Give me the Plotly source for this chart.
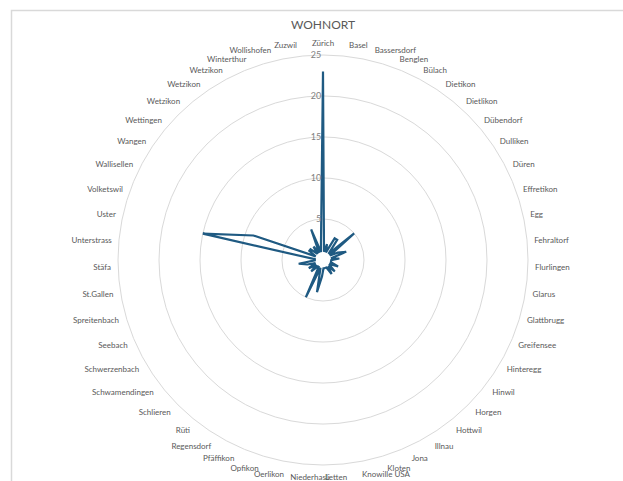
import plotly.graph_objects as go

title_text = "WOHNORT"

orte = [
    "Zürich", "Basel", "Bassersdorf", "Benglen", "Bülach", "Dietikon", "Dietlikon",
    "Dübendorf", "Dulliken", "Düren", "Effretikon", "Egg", "Fehraltorf", "Flurlingen",
    "Glarus", "Glattbrugg", "Greifensee", "Hinteregg", "Hinwil", "Horgen", "Hottwil",
    "Illnau", "Jona", "Kloten", "Knowille USA", "Letten", "Niederhasli", "Oerlikon",
    "Opfikon", "Pfäffikon", "Regensdorf", "Rüti", "Schlieren", "Schwamendingen",
    "Schwerzenbach", "Seebach", "Spreitenbach", "St.Gallen", "Stäfa", "Unterstrass",
    "Uster", "Volketswil", "Wallisellen", "Wangen", "Wettingen", "Wetzikon", "Wetzikon",
    "Wetzikon", "Winterthur", "Wollishofen", "Zuzwil",
]

anzahl = [
    23, 1, 2, 1, 3, 3, 1,
    5, 1, 2, 3, 1, 2, 1,
    1, 1, 2, 1, 1, 2, 1,
    2, 1, 1, 1, 1, 2, 4,
    1, 5, 1, 1, 2, 1,
    2, 1, 2, 3, 1, 1,
    15, 9, 1, 2, 2, 1, 2,
    1, 4, 1, 2,
]

radial_ticks = [5, 10, 15, 20, 25]

n = len(orte)
step = 360.0 / n
theta_pos = [i * step for i in range(n)]

fig = go.Figure()
fig.add_trace(go.Scatterpolar(
    r=anzahl + anzahl[:1],
    theta=theta_pos + theta_pos[:1],
    mode="lines",
    line=dict(color="#1f5a82", width=2.2),
    hoverinfo="skip",
    showlegend=False,
))

W, H = 623, 481
cx, cy, R = 323, 260, 205
fig.update_layout(
    width=W, height=H,
    margin=dict(l=0, r=0, t=0, b=0),
    paper_bgcolor="white",
    plot_bgcolor="white",
    font=dict(family="Lato, sans-serif", color="#595959"),
    title=dict(text=title_text, x=cx / W, xanchor="center", y=1 - 25 / H, yanchor="middle",
               font=dict(size=12, color="#595959")),
    polar=dict(
        domain=dict(x=[(cx - R) / W, (cx + R) / W], y=[(H - cy - R) / H, (H - cy + R) / H]),
        bgcolor="white",
        radialaxis=dict(
            range=[0, 25], tickvals=radial_ticks, angle=90, tickangle=90,
            showline=False, ticks="", gridcolor="#d9d9d9", gridwidth=1,
            tickfont=dict(size=9, color="#7f7f7f"), side="counterclockwise",
        ),
        angularaxis=dict(
            rotation=90, direction="clockwise", tickmode="array",
            tickvals=theta_pos, ticktext=orte, showgrid=False,
            ticks="outside", ticklen=5, tickcolor="rgba(0,0,0,0)",
            showline=True, linecolor="#d9d9d9", linewidth=1,
            tickfont=dict(size=8, color="#595959"),
        ),
    ),
    shapes=[dict(type="rect", xref="paper", yref="paper",
                 x0=11.5 / W, x1=1.2, y0=-0.2, y1=1 - 10.5 / H,
                 line=dict(color="#d9d9d9", width=1.5))],
)

fig.write_html("out.html")
